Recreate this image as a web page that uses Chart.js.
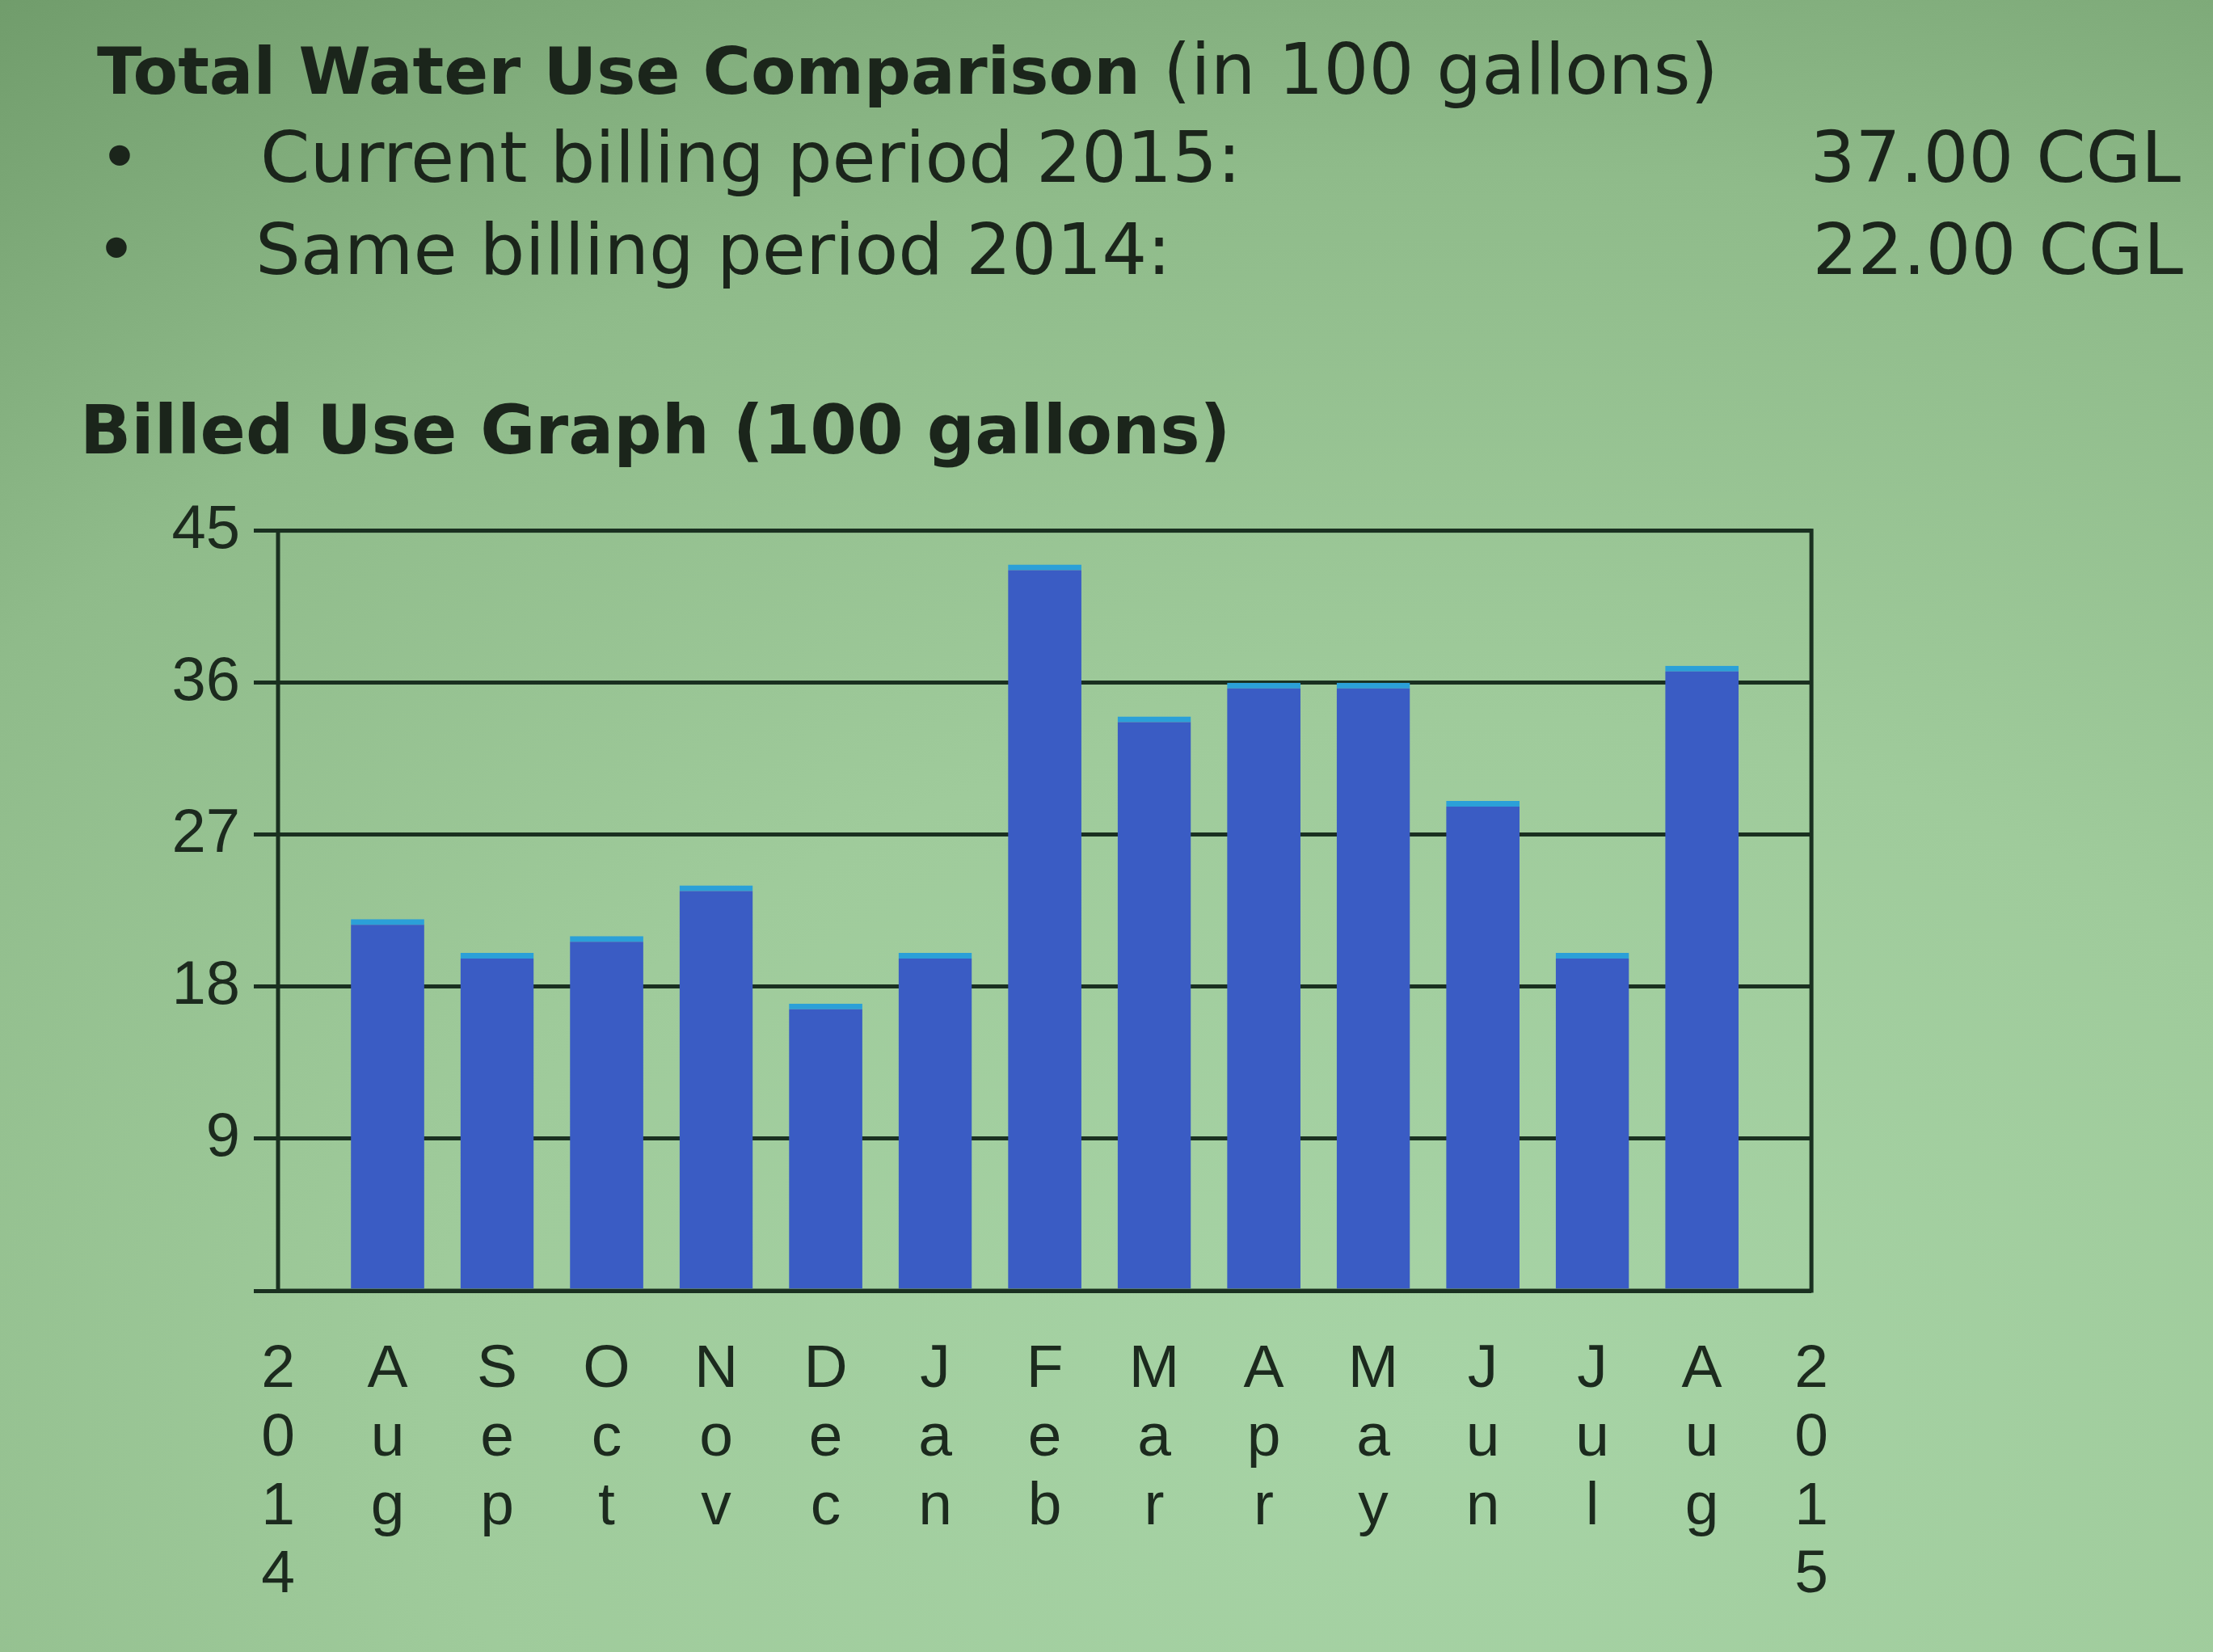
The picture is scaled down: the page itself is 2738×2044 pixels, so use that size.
<!DOCTYPE html>
<html>
<head>
<meta charset="utf-8">
<title>Billed Use Graph</title>
<script src="https://cdn.jsdelivr.net/npm/chart.js@4.4.1/dist/chart.umd.min.js"></script>
<style>
  html, body { margin: 0; padding: 0; }
  body {
    width: 2738px; height: 2044px; overflow: hidden; position: relative;
    background: radial-gradient(ellipse 120% 110% at 65% 85%, #a7d4a6 0%, #9fcb9b 38%, #8fbb8a 68%, #6a9665 100%);
    font-family: "DejaVu Sans", sans-serif; color: #1b251b;
  }
  .t { position: absolute; white-space: nowrap; font-size: 88px; line-height: 88px; }
  .b { font-weight: bold; font-size: 81px; }
  #wrap { position: absolute; left: 100px; top: 594px; width: 2210px; height: 1403px; }
</style>
</head>
<body>

<div class="t" style="left:120px; top:42px;"><span class="b">Total Water Use Comparison</span> (in 100 gallons)</div>
<div class="t" style="left:122px; top:151px;">&bull;</div>
<div class="t" style="left:322px; top:151px;">Current billing period 2015:</div>
<div class="t" style="right:40px; top:151px;">37.00 CGL</div>
<div class="t" style="left:118px; top:265px;">&bull;</div>
<div class="t" style="left:316px; top:265px;">Same billing period 2014:</div>
<div class="t" style="right:37px; top:265px;">22.00 CGL</div>
<div class="t" style="left:99px; top:491px; font-weight:bold; font-size:83px; line-height:83px;">Billed Use Graph (100 gallons)</div>

<div id="wrap"><canvas id="chart"></canvas></div>

<script>
  // year markers sit at both ends of the axis, months in between
  var months = ['2014', 'Aug', 'Sep', 'Oct', 'Nov', 'Dec', 'Jan', 'Feb', 'Mar', 'Apr', 'May', 'Jun', 'Jul', 'Aug', '2015']
  var usage = [null, 22, 20, 21, 24, 17, 20, 43, 34, 36, 36, 29, 20, 37, null]
  var yTicks = [9, 18, 27, 36, 45]

  var ink = '#1c2a1e'
  var lineInk = '#1a3020'

  // stack each label one letter per line
  var labels = months.map(function (m) { return m.split('') })

  var frame = {
    id: 'frame',
    beforeDatasetsDraw: function (chart) {
      var a = chart.chartArea
      var c = chart.ctx
      c.save()
      c.strokeStyle = lineInk
      c.lineWidth = 5
      c.strokeRect(a.left, a.top, a.right - a.left, a.bottom - a.top)
      c.restore()
    }
  }

  new Chart(document.getElementById('chart'), {
    type: 'bar',
    data: {
      labels: labels,
      datasets: [{
        data: usage,
        backgroundColor: '#3a5cc4',
        borderColor: '#2ba0d8',
        borderWidth: { top: 7, right: 0, bottom: 0, left: 0 },
        borderSkipped: false,
        categoryPercentage: 1,
        barPercentage: 0.67
      }]
    },
    plugins: [frame],
    options: {
      responsive: true,
      maintainAspectRatio: false,
      devicePixelRatio: 1,
      animation: false,
      layout: { padding: { top: 45, right: 60, bottom: 0, left: 0 } },
      plugins: { legend: { display: false }, tooltip: { enabled: false } },
      scales: {
        x: {
          offset: false,
          grid: { display: false },
          border: { display: false },
          afterFit: function (s) { s.height = 400 },
          ticks: {
            autoSkip: false,
            maxRotation: 0,
            padding: 48,
            color: ink,
            font: { family: 'Liberation Sans', size: 75, lineHeight: 1.13 }
          }
        },
        y: {
          min: 0,
          max: 45,
          afterFit: function (s) { s.width = 244 },
          afterBuildTicks: function (s) {
            s.ticks = [0].concat(yTicks).map(function (v) { return { value: v } })
          },
          border: { display: false },
          grid: { color: lineInk, lineWidth: 5, tickLength: 30 },
          ticks: {
            padding: 17,
            color: ink,
            font: { family: 'Liberation Sans', size: 76 },
            callback: function (v) { return v === 0 ? '' : v }
          }
        }
      }
    }
  })
</script>
</body>
</html>
